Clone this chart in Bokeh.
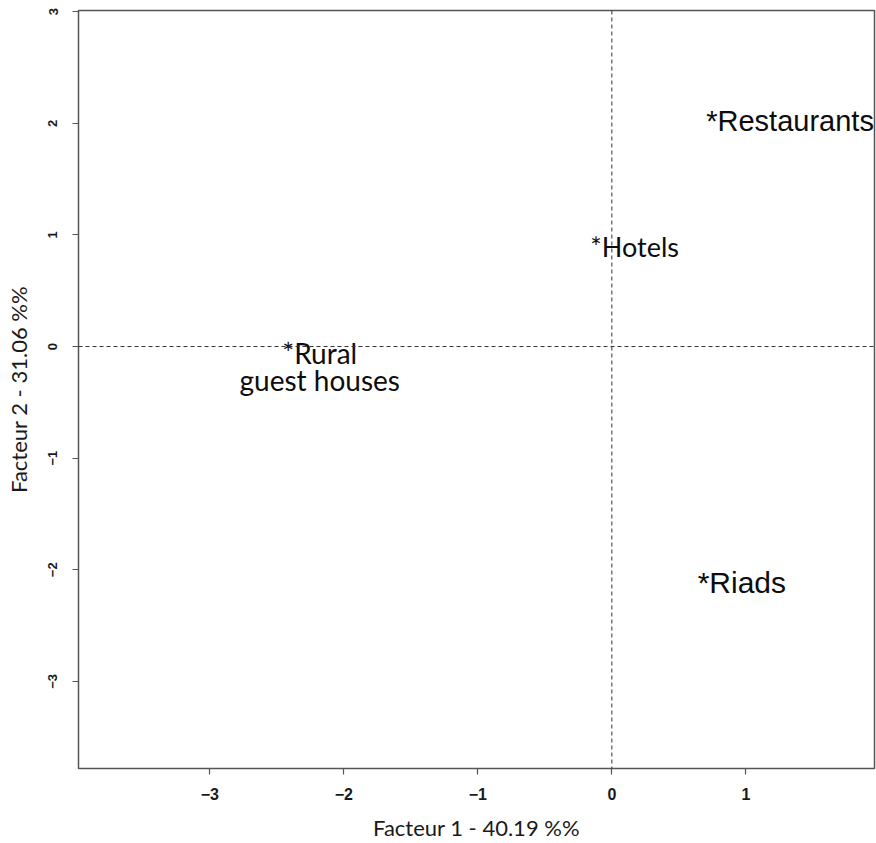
from bokeh.plotting import figure
from bokeh.models import FixedTicker, Span, Range1d
from bokeh.core.properties import value
from bokeh.embed import file_html
from bokeh.resources import INLINE

# Data (factor coordinates of the label anchors)
lab_restaurants, x_restaurants, y_restaurants = "*Restaurants", 1.33, 2.02
lab_riads, x_riads, y_riads = "*Riads", 0.97, -2.11
lab_hotels, x_hotels, y_hotels = "*Hotels", 0.17, 0.90
lab_rural = ["*Rural", "guest houses"]
x_rural, y_rural = -2.18, -0.18

x_ticks = [-3, -2, -1, 0, 1]
y_ticks = [-3, -2, -1, 0, 1, 2, 3]

x_title = "Facteur 1 - 40.19 %%"
y_title = "Facteur 2 - 31.06 %%"

p = figure(width=876, height=843, output_backend="svg", toolbar_location=None,
           x_range=Range1d(-3.98, 1.96), y_range=Range1d(-3.78, 3.01),
           min_border_left=78, min_border_right=2, min_border_top=10, min_border_bottom=74)
p.grid.visible = False
p.background_fill_color = "white"
p.border_fill_color = "white"
p.outline_line_color = "#555555"
p.outline_line_width = 1.5

for ax in (p.xaxis[0], p.yaxis[0]):
    ax.axis_line_color = None
    ax.major_tick_in = 0
    ax.major_tick_out = 6
    ax.major_tick_line_color = "#555555"
    ax.major_tick_line_width = 1.2
    ax.minor_tick_line_color = None
    ax.major_label_text_font = "Liberation Sans"
    ax.major_label_text_font_style = "bold"
    ax.major_label_text_color = "#1a1a1a"
    ax.axis_label_text_font = "Lato"
    ax.axis_label_text_font_style = "normal"
    ax.axis_label_text_font_size = "22px"
    ax.axis_label_text_color = "#1a1a1a"

p.xaxis[0].ticker = FixedTicker(ticks=x_ticks)
p.yaxis[0].ticker = FixedTicker(ticks=y_ticks)
p.xaxis[0].axis_label = x_title
p.yaxis[0].axis_label = y_title
p.xaxis[0].major_label_text_font_size = "16px"
p.xaxis[0].major_label_standoff = 13
p.xaxis[0].axis_label_standoff = 11
p.yaxis[0].major_label_text_font_size = "13px"
p.yaxis[0].major_label_orientation = "parallel"
p.yaxis[0].major_label_standoff = 15
p.yaxis[0].axis_label_standoff = 14

p.add_layout(Span(location=0, dimension="height", line_color="#333333", line_dash="4 3", line_width=1))
p.add_layout(Span(location=0, dimension="width", line_color="#333333", line_dash="4 3", line_width=1))

def label(x, y, t, font, size, yoff=0):
    p.text(x=[x], y=[y], text=[t], text_font=value(font), text_font_size=size,
           text_align="center", text_baseline="middle", text_color="#0d0d0d",
           y_offset=yoff)

label(x_restaurants, y_restaurants, lab_restaurants, "Liberation Sans", "29px")
label(x_riads, y_riads, lab_riads, "Liberation Sans", "30px")
label(x_hotels, y_hotels, lab_hotels, "Lato", "27px")
label(x_rural, y_rural, lab_rural[0], "Lato", "28px", -14)
label(x_rural, y_rural, lab_rural[1], "Lato", "28px", 13)

open("out.html", "w").write(file_html(p, INLINE))
